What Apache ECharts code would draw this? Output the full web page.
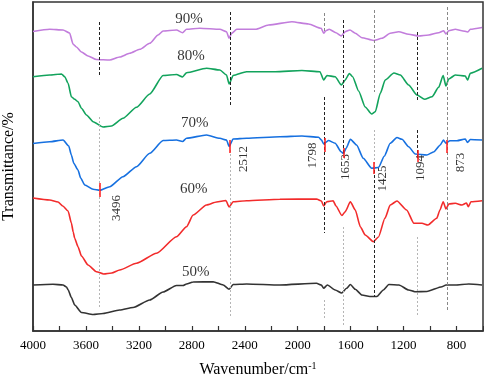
<!DOCTYPE html>
<html>
<head>
<meta charset="utf-8">
<script src="https://cdn.jsdelivr.net/npm/echarts@6/dist/echarts.min.js"></script>
<style>
  html, body { margin: 0; padding: 0; background: #fff; }
  #chart { width: 484px; height: 378px; }
</style>
</head>
<body>
<div id="chart"></div>
<script>
// [wavenumber cm-1, offset transmittance]
const spec50 = [[4000,46],[3849,46.7],[3773,46],[3747,44],[3734,41],[3710,33.5],[3685,26],[3634,18.5],[3546,16.5],[3471,17.5],[3345,21],[3244,23.5],[3118,31],[3017,39],[2916,45.5],[2866,45.5],[2840,47],[2790,49],[2639,49.3],[2563,46],[2518,41.7],[2488,46.5],[2386,47],[2135,46],[1858,47.7],[1821,46],[1804,42.7],[1776,46],[1717,41],[1668,38],[1631,42.7],[1602,46.5],[1565,41.7],[1515,36],[1455,34.5],[1402,34.5],[1353,41],[1311,46.5],[1235,46],[1162,41],[1115,39.3],[1024,39.5],[910,44.3],[880,46],[809,46],[708,47],[607,46]];
const spec60 = [[4000,133],[3874,131],[3811,129],[3775,125],[3735,120],[3710,108],[3696,99],[3685,92.7],[3660,84.3],[3634,75],[3584,66],[3521,59.3],[3466,57],[3405,58],[3345,61],[3218,67.7],[3067,77.7],[2916,94.3],[2840,104.3],[2790,116],[2689,126],[2613,129],[2543,130.5],[2518,124],[2488,129.3],[2386,130.3],[2135,131.7],[1858,132],[1821,130],[1804,125],[1781,129.3],[1732,130.3],[1711,125],[1666,115.5],[1641,119.3],[1602,129.3],[1565,121],[1527,104.3],[1490,96],[1428,89.3],[1390,94],[1341,112.7],[1301,126],[1250,130],[1177,121],[1122,107.7],[1061,107.7],[1016,106],[950,112.7],[925,121],[901,129.3],[880,122],[859,127],[809,127.7],[759,126],[725,128],[711,124.3],[691,129.3],[607,130.3]];
const spec70 = [[4000,187.5],[3874,189.3],[3773,191],[3730,185],[3710,176],[3692,167.7],[3660,161],[3640,153],[3609,146],[3546,141.7],[3496,140.7],[3420,144.3],[3320,154.3],[3218,164.3],[3118,177.7],[3017,190.5],[2916,191],[2870,189.5],[2840,192.7],[2689,196],[2588,192.7],[2538,191],[2518,184.5],[2488,192],[2386,192.7],[2135,194.3],[1968,195],[1842,193.7],[1820,191],[1804,187],[1768,190.5],[1717,187.7],[1672,179.3],[1655,177.5],[1634,182.7],[1602,191.7],[1555,186],[1505,172.7],[1441,162.7],[1390,163.5],[1345,175],[1301,187.7],[1250,193.5],[1212,191.7],[1162,184.3],[1112,177],[1025,176],[970,179.3],[923,186],[899,191],[880,187.7],[850,190.3],[797,190.3],[734,192],[717,188.5],[696,191.5],[607,191]];
const spec80 = [[4000,254.3],[3874,256],[3785,257],[3760,254.3],[3735,247.7],[3710,234.3],[3685,231.7],[3660,229.3],[3634,222.7],[3596,216],[3546,209.3],[3471,204],[3407,205],[3320,212.7],[3218,223.7],[3118,237],[3017,255.5],[2916,256.5],[2870,254],[2840,258.3],[2689,262.7],[2588,261],[2538,256],[2518,247],[2488,255.5],[2386,259.3],[2170,259.3],[1968,260.5],[1832,259.3],[1804,251],[1779,255.5],[1717,254.3],[1670,246],[1641,251],[1610,257.5],[1585,254.3],[1540,240],[1490,224],[1441,217],[1414,219.3],[1376,237.7],[1339,251],[1273,258],[1225,256],[1162,246],[1099,236],[1041,231.7],[985,234.3],[935,243.7],[901,255.5],[880,245],[859,252],[809,256],[734,255],[717,251],[696,257.7],[607,262.7]];
const spec90 = [[4000,299.5],[3874,301.7],[3773,301],[3723,298],[3698,287],[3672,284],[3634,279],[3584,275],[3521,271.5],[3420,271],[3345,274],[3269,277.7],[3193,281.7],[3118,287.7],[3055,296],[3017,300],[2916,301],[2870,298.3],[2840,301.7],[2740,302.7],[2588,301.7],[2538,299.3],[2518,292.7],[2500,297.7],[2460,301.7],[2321,301.7],[2220,306],[2044,309.3],[1918,307],[1822,302.7],[1804,297.7],[1787,300.3],[1762,301.7],[1711,298.3],[1671,295],[1641,299.3],[1605,301],[1565,297.7],[1515,293.3],[1426,290.5],[1364,292.7],[1301,297.7],[1237,299.3],[1162,296.7],[1086,295],[1010,296],[935,298.3],[897,300.3],[880,297],[859,300.3],[809,301.7],[759,300.3],[714,299],[696,301.7],[607,303.5]];

const seriesNames = ['50%', '60%', '70%', '80%', '90%'];
const seriesColors = ['#333333', '#f22b2b', '#1670e0', '#12a35c', '#c27ddc'];
const spectra = [spec50, spec60, spec70, spec80, spec90];

// where each sample's name sits
const nameSpots = [[2770,59],[2785,142],[2777,208],[2807,275],[2822,312]];

// peak positions, label anchors and red marker spans on the 70% trace
const peakWaves = [3496, 2512, 1798, 1653, 1425, 1094, 873];
const peakLabelSpots = [[3369,123],[2407,172],[1884,175.5],[1636,164],[1358,152.5],[1071,163],[769,168.5]];
const peakTickSpans = [[148,134],[191,178],[193,179],[183,173],[169,157],[181,169],[191,178]];

// vertical guide segments: [wavenumber, from, to, kind]
const guides = [
  [3496,309,255,'dash'],[3496,214,24,'dot'],
  [2512,319,225,'dash'],[2512,181,14,'dot'],
  [1798,318,298,'gray'],[1798,234,98,'dash'],[1798,31,13,'dot'],
  [1653,311,176,'dash'],[1653,104,6,'dot'],
  [1425,321,239,'gray'],[1425,201,161,'dot'],[1425,161,34,'dash'],
  [1094,299,231,'dash'],[1094,201,171,'dash'],[1094,94,14,'dot'],
  [873,324,21,'gray']
];

const xTicks = [800, 1200, 1600, 2000, 2400, 2800, 3200, 3600, 4000];

const guideStyles = {
  dash: { color: '#222', type: [3, 2], width: 1 },
  dot: { color: '#b5b5b5', type: [2, 2], width: 1 },
  gray: { color: '#888', type: [3, 2], width: 1 }
};

const font = 'Liberation Serif, Times New Roman, serif';
const chart = echarts.init(document.getElementById('chart'));

const lineSeries = spectra.map((d, i) => ({
  name: seriesNames[i],
  type: 'line',
  data: d,
  symbol: 'none',
  smooth: 0.2,
  smoothMonotone: 'x',
  lineStyle: { color: seriesColors[i], width: 1.6 },
  z: 3
}));

const markLines = guides.map(g => [
  { coord: [g[0], g[1]], lineStyle: guideStyles[g[3]] },
  { coord: [g[0], g[2]] }
]).concat(peakWaves.map((w, i) => [
  { coord: [w, peakTickSpans[i][0]], lineStyle: { color: '#ff1a1a', type: 'solid', width: 1.5 } },
  { coord: [w, peakTickSpans[i][1]] }
]));

const option = {
  animation: false,
  grid: {
    left: 33, right: 1, top: 2, bottom: 47,
    outerBoundsMode: 'none',
    containLabel: false,
    show: true, borderColor: '#333', borderWidth: 1.5
  },
  xAxis: {
    type: 'value',
    inverse: true,
    min: 600,
    max: 4000,
    interval: 200,
    axisLine: { lineStyle: { color: '#333', width: 1.5 } },
    axisTick: { inside: true, length: 5, lineStyle: { color: '#333', width: 1.2 } },
    axisLabel: {
      margin: 8,
      color: '#000',
      fontFamily: font,
      fontSize: 13,
      formatter: v => (xTicks.indexOf(v) >= 0 ? String(v) : '')
    },
    splitLine: { show: false },
    name: 'Wavenumber/cm{sup|-1}',
    nameLocation: 'middle',
    nameGap: 30,
    nameTextStyle: {
      fontFamily: font, fontSize: 16, color: '#000',
      rich: { sup: { fontFamily: font, fontSize: 10, color: '#000', verticalAlign: 'top', padding: [0, 0, 8, 0] } }
    }
  },
  yAxis: {
    type: 'value',
    min: 0,
    max: 329,
    axisLine: { show: true, lineStyle: { color: '#333', width: 1.5 } },
    axisTick: { show: false },
    axisLabel: { show: false },
    splitLine: { show: false },
    name: 'Transmittance/%',
    nameLocation: 'middle',
    nameGap: 16,
    nameTextStyle: { fontFamily: font, fontSize: 16, color: '#000' }
  },
  series: lineSeries.concat([
    {
      type: 'line',
      data: [],
      silent: true,
      markLine: {
        silent: true,
        symbol: ['none', 'none'],
        label: { show: false },
        data: markLines
      },
      z: 2
    },
    {
      type: 'scatter',
      symbolSize: 0,
      silent: true,
      data: nameSpots.map((p, i) => ({ name: seriesNames[i], value: p })),
      label: {
        show: true, position: 'inside', formatter: '{b}',
        fontFamily: font, fontSize: 15, color: '#000'
      }
    },
    {
      type: 'scatter',
      symbolSize: 0,
      silent: true,
      data: peakLabelSpots.map((p, i) => ({ name: String(peakWaves[i]), value: p })),
      label: {
        show: true, position: 'inside', formatter: '{b}', rotate: 90,
        fontFamily: font, fontSize: 13, color: '#000'
      }
    }
  ])
};

chart.setOption(option);
</script>
</body>
</html>
